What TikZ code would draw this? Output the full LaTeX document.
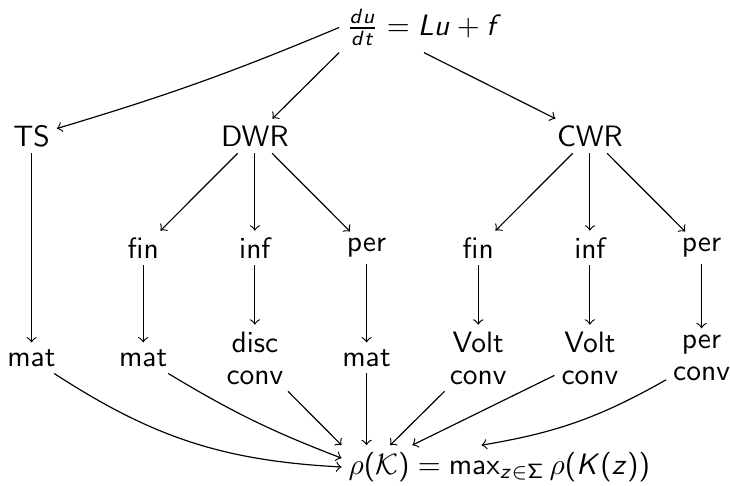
\documentclass[tikz,border=0pt]{standalone}
\usepackage[OT1]{fontenc}
\renewcommand{\sfdefault}{cmss}
\usepackage{amsmath}
\usepackage{sansmath}
\begin{document}
\begin{tikzpicture}[font=\sffamily\sansmath, every node/.style={inner sep=2.2pt}, arr/.style={->}, twoline/.style={align=center}]
\useasboundingbox (0,0) rectangle (8.701,5.781);
\node (eq) at (5.054,5.453){$\frac{du}{dt} = Lu + f$};
\node (ts) at (0.376,4.160){TS};
\node (dwr) at (3.038,4.160){DWR};
\node (cwr) at (7.031,4.160){CWR};
\draw[arr](eq.west) to[bend left=3] (ts);
\draw[arr](eq.south west) -- (dwr);
\draw[arr](eq.south) -- (cwr);
\node (dfin) at (1.707,2.825){fin};
\node (dinf) at (3.038,2.825){inf};
\node (dper) at (4.369,2.825){per};
\draw[arr](dwr) -- (dfin);
\draw[arr](dwr) -- (dinf);
\draw[arr](dwr) -- (dper);
\node (cfin) at (5.700,2.825){fin};
\node (cinf) at (7.031,2.825){inf};
\node (cper) at (8.362,2.825){per};
\draw[arr](cwr) -- (cfin);
\draw[arr](cwr) -- (cinf);
\draw[arr](cwr) -- (cper);
\node (tsmat) at (0.376,1.514){mat};
\node (dfinmat) at (1.707,1.514){mat};
\node[twoline] (dinfconv) at (3.038,1.514){disc\\[-1.15pt]conv};
\node (dpermat) at (4.369,1.514){mat};
\node[twoline] (cfinconv) at (5.700,1.514){Volt\\[-1.15pt]conv};
\node[twoline] (cinfconv) at (7.031,1.514){Volt\\[-1.15pt]conv};
\node[twoline] (cperconv) at (8.362,1.514){per\\[-1.15pt]conv};
\draw[arr](ts) -- (tsmat);
\draw[arr](dfin) -- (dfinmat);
\draw[arr](dinf) -- (dinfconv);
\draw[arr](dper) -- (dpermat);
\draw[arr](cfin) -- (cfinconv);
\draw[arr](cinf) -- (cinfconv);
\draw[arr](cper) -- (cperconv);
\node (rho) at (5.952,0.215){$\rho(\mathcal{K}) = \max_{z\in\mathsf{\Sigma}}\rho(K(z))$};
\draw[arr](tsmat) to[bend right=15] (rho.west);
\draw[arr](dfinmat) to[bend right=5] ([yshift=3pt]rho.west);
\draw[arr](dinfconv) -- (rho.north west);
\draw[arr](dpermat) -- (dpermat |- rho.north);
\draw[arr](cfinconv) -- ([xshift=16.5pt]rho.north west);
\draw[arr](cinfconv) -- ([xshift=24pt]rho.north west);
\draw[arr](cperconv) to[bend left=10] ([xshift=47.5pt]rho.north west);
\end{tikzpicture}
\end{document}
